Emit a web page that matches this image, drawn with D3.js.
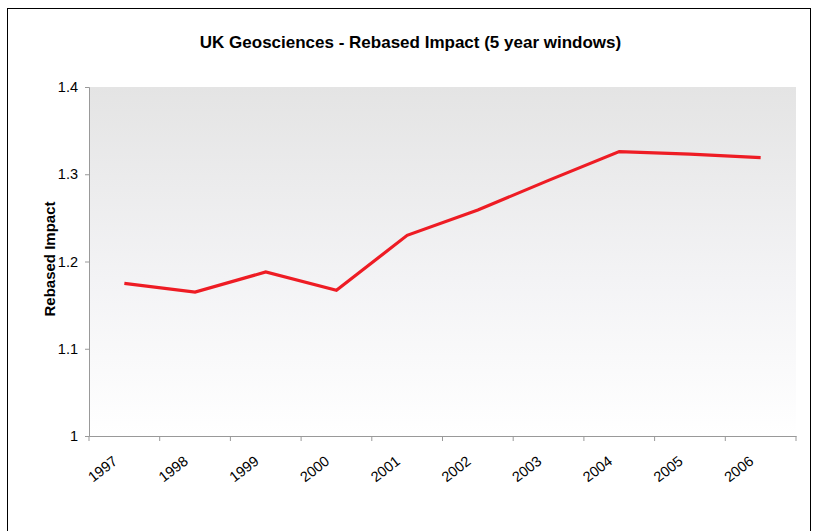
<!DOCTYPE html>
<html><head><meta charset="utf-8">
<script src="https://cdn.jsdelivr.net/npm/d3@7"></script>
<style>body{margin:0;background:#fff;} svg{display:block;font-family:Arial,"Liberation Sans",sans-serif;}</style>
</head><body>
<svg id="c" width="817" height="531"></svg>
<script>
const years = ["1997","1998","1999","2000","2001","2002","2003","2004","2005","2006"];
const impact = [1.175,1.165,1.188,1.167,1.230,1.259,1.293,1.326,1.323,1.319];
const yTicks = [1,1.1,1.2,1.3,1.4];
const title = "UK Geosciences - Rebased Impact (5 year windows)";
const yLabel = "Rebased Impact";

const svg = d3.select("#c");
const m = {l:89, r:796, t:87, b:436};
const FF = "Arial,'Liberation Sans',sans-serif";

// outer frame
svg.append("rect").attr("x",7.5).attr("y",8.5).attr("width",803).attr("height",540)
  .attr("fill","#fff").attr("stroke","#000").attr("stroke-width",1);

const defs = svg.append("defs");
const g = defs.append("linearGradient").attr("id","bg").attr("x1",0).attr("y1",0).attr("x2",0).attr("y2",1);
g.append("stop").attr("offset","0%").attr("stop-color","#e4e4e4");
g.append("stop").attr("offset","55%").attr("stop-color","#f3f3f5");
g.append("stop").attr("offset","100%").attr("stop-color","#ffffff");

const x = d3.scaleBand().domain(years).range([m.l,m.r]);
const y = d3.scaleLinear().domain([1,1.4]).range([m.b,m.t]);

svg.append("rect").attr("x",m.l).attr("y",m.t).attr("width",m.r-m.l).attr("height",m.b-m.t)
  .attr("fill","url(#bg)");

svg.append("text").attr("x",410.5).attr("y",48).attr("text-anchor","middle")
  .attr("font-size",17).attr("font-weight","bold").attr("fill","#000").text(title);

// y axis
const ya = svg.append("g").attr("transform",`translate(${m.l},0)`)
  .call(d3.axisLeft(y).tickValues(yTicks).tickSize(4).tickPadding(7).tickFormat(d=>String(+d.toFixed(1))));
ya.select(".domain").attr("stroke","#999");
ya.selectAll(".tick line").attr("stroke","#999");
ya.selectAll("text").attr("font-size",14.5).attr("fill","#000").attr("font-family",FF);

// x axis
const xa = svg.append("g").attr("transform",`translate(0,${m.b})`)
  .call(d3.axisBottom(x).tickSize(0).tickFormat(""));
xa.select(".domain").attr("stroke","#999");
const edges = years.map(d=>x(d)).concat([m.r]);
svg.append("g").selectAll("line").data(edges).join("line")
  .attr("x1",d=>d).attr("x2",d=>d).attr("y1",m.b).attr("y2",m.b+5).attr("stroke","#999");
svg.append("g").selectAll("text").data(years).join("text")
  .attr("transform",d=>`translate(${x(d)+x.bandwidth()/2-6},${m.b+27}) rotate(-38)`)
  .attr("text-anchor","end").attr("font-size",14.5).attr("fill","#000").text(d=>d);

svg.append("text").attr("transform",`translate(55,${259}) rotate(-90)`)
  .attr("text-anchor","middle").attr("font-size",15).attr("font-weight","bold").text(yLabel);

const line = d3.line().x((d,i)=>x(years[i])+x.bandwidth()/2).y(d=>y(d));
svg.append("path").datum(impact).attr("d",line).attr("fill","none")
  .attr("stroke","#ee1c24").attr("stroke-width",3.2).attr("stroke-linejoin","miter");
</script>
</body></html>
